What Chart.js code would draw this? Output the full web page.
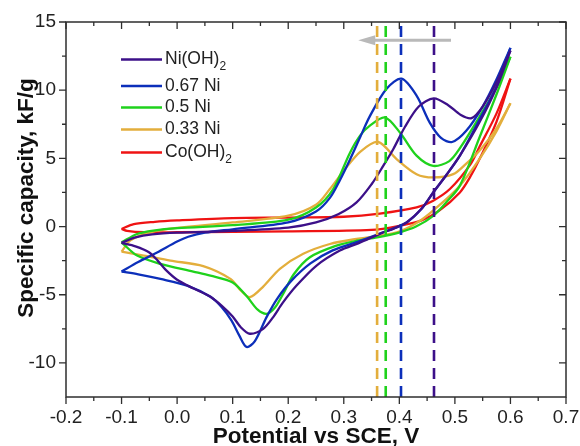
<!DOCTYPE html>
<html>
<head>
<meta charset="utf-8">
<script src="https://cdn.jsdelivr.net/npm/chart.js@4.4.1/dist/chart.umd.min.js"></script>
<style>
  html, body { margin: 0; padding: 0; background: #fff; }
  #box { width: 580px; height: 446px; }
</style>
</head>
<body>
<div id="box"><canvas id="grafico"></canvas></div>
<script>
// dados (potencial V, capacidade kF/g)
var potentialTicks = [-0.2, -0.1, 0, 0.1, 0.2, 0.3, 0.4, 0.5, 0.6, 0.7];
var capacityTicks = [-10, -5, 0, 5, 10, 15];

var seriesNames = ['Ni(OH)2', '0.67 Ni', '0.5 Ni', '0.33 Ni', 'Co(OH)2'];
var seriesColors = ['#3c1089', '#0c2fba', '#1fd21c', '#e3ae3c', '#ef1313'];

// potenciais de pico (linhas tracejadas): Ni(OH)2, 0.67 Ni, 0.5 Ni, 0.33 Ni
var peakPotentials = [0.4624, 0.403, 0.3755, 0.360];

// varredura anodica (ida) e catodica (volta)
var niFwd = [[-0.1,-1.2],[-0.075,-0.8],[-0.045,-0.58],[0,-0.45],[0.1,-0.32],[0.2,-0.08],[0.25,0.3],[0.29,0.9],[0.323,1.77],[0.35,3.1],[0.371,4.45],[0.389,5.67],[0.41,7.3],[0.435,8.8],[0.462,9.4],[0.488,8.9],[0.51,8.2],[0.53,7.95],[0.55,8.8],[0.575,10.6],[0.6,12.9]];
var niRev = [[0.6,12.9],[0.575,10.2],[0.545,7.7],[0.509,5.2],[0.485,3.8],[0.461,2.5],[0.44,1.3],[0.413,0.3],[0.39,-0.15],[0.37,-0.45],[0.326,-1.23],[0.293,-1.76],[0.251,-2.86],[0.215,-4.33],[0.19,-5.6],[0.173,-6.64],[0.155,-7.5],[0.131,-7.86],[0.115,-7.4],[0.1,-6.6],[0.08,-5.8],[0.06,-5.15],[0.03,-4.55],[0,-3.9],[-0.02,-3.2],[-0.035,-2.5],[-0.05,-1.9],[-0.075,-1.45],[-0.1,-1.2]];

var n67Fwd = [[-0.1,-3.3],[-0.07,-2.6],[-0.036,-1.9],[0,-1.1],[0.02,-0.75],[0.05,-0.45],[0.1,-0.2],[0.2,0.3],[0.25,1.1],[0.275,2.1],[0.293,3.4],[0.311,4.9],[0.33,6.6],[0.347,8.1],[0.377,10.1],[0.404,10.84],[0.431,9.6],[0.455,7.6],[0.475,6.5],[0.495,6.2],[0.52,7.0],[0.55,8.8],[0.575,10.8],[0.6,13.1]];
var n67Rev = [[0.6,13.1],[0.575,10.3],[0.545,7.9],[0.509,5.2],[0.485,3.8],[0.461,2.5],[0.44,1.3],[0.413,0.3],[0.371,-0.42],[0.326,-1.1],[0.28,-1.75],[0.24,-2.7],[0.205,-4.0],[0.18,-5.3],[0.161,-6.64],[0.14,-8.4],[0.125,-8.83],[0.112,-8.0],[0.098,-6.9],[0.08,-5.9],[0.06,-5.15],[0.018,-4.33],[-0.03,-3.84],[-0.07,-3.5],[-0.1,-3.3]];

var n50Fwd = [[-0.1,-1.16],[-0.072,-0.55],[-0.043,-0.3],[0,-0.12],[0.1,0.1],[0.2,0.5],[0.25,1.4],[0.281,2.75],[0.311,5.4],[0.33,6.7],[0.347,7.4],[0.374,8.0],[0.401,6.9],[0.431,5.2],[0.461,4.45],[0.49,4.8],[0.51,5.8],[0.545,8.1],[0.575,10.2],[0.6,12.45]];
var n50Rev = [[0.6,12.45],[0.575,9.7],[0.545,6.6],[0.509,3.0],[0.485,1.8],[0.461,0.79],[0.43,0.0],[0.401,-0.42],[0.36,-0.8],[0.323,-1.04],[0.287,-1.4],[0.239,-2.25],[0.21,-3.5],[0.19,-5.0],[0.175,-6.0],[0.161,-6.4],[0.145,-6.1],[0.125,-5.1],[0.1,-4.1],[0.06,-3.6],[0.029,-3.3],[-0.03,-2.74],[-0.072,-2.13],[-0.1,-1.16]];

var n33Fwd = [[-0.1,-1.84],[-0.084,-1.0],[-0.048,-0.42],[0,-0.1],[0.1,0.3],[0.2,0.8],[0.25,1.6],[0.275,2.75],[0.3,4.1],[0.33,5.5],[0.362,6.2],[0.395,4.95],[0.431,3.84],[0.461,3.6],[0.497,3.84],[0.52,4.6],[0.545,5.6],[0.575,7.2],[0.6,9.04]];
var n33Rev = [[0.6,9.04],[0.575,7.0],[0.545,5.0],[0.509,3.0],[0.473,1.6],[0.44,0.5],[0.401,-0.35],[0.36,-0.7],[0.323,-0.91],[0.275,-1.28],[0.227,-2.0],[0.185,-3.1],[0.155,-4.4],[0.131,-5.18],[0.115,-4.7],[0.096,-3.84],[0.047,-2.9],[-0.012,-2.5],[-0.06,-2.13],[-0.1,-1.84]];

var coFwd = [[-0.1,-0.18],[-0.078,0.18],[-0.04,0.35],[0,0.45],[0.1,0.62],[0.2,0.66],[0.3,0.72],[0.365,0.95],[0.431,1.4],[0.461,1.9],[0.491,2.75],[0.527,4.5],[0.545,5.9],[0.575,8.3],[0.6,10.85]];
var coRev = [[0.6,10.85],[0.575,7.7],[0.545,5.0],[0.527,3.6],[0.509,2.5],[0.473,1.2],[0.44,0.45],[0.401,0.06],[0.35,-0.25],[0.2,-0.35],[0,-0.42],[-0.06,-0.42],[-0.09,-0.32],[-0.1,-0.18]];

// seta cinza (de x0 para x1, em y)
var arrowFrom = 0.493, arrowTo = 0.326, arrowY = 13.67;

var curves = [[niFwd, niRev], [n67Fwd, n67Rev], [n50Fwd, n50Rev], [n33Fwd, n33Rev], [coFwd, coRev]];
var dashOrder = [3, 2, 1, 0]; // 0.33, 0.5, 0.67, Ni(OH)2

function pts(arr) {
    return arr.map(function(p){ return {x: p[0], y: p[1]}; });
}

var datasets = [];
// linhas tracejadas nos picos
dashOrder.forEach(function(i){
    datasets.push({
        data: [{x: peakPotentials[i], y: -12.5}, {x: peakPotentials[i], y: 15}],
        borderColor: seriesColors[i],
        borderWidth: 2.6,
        borderDash: [11, 7],
        pointRadius: 0,
        showLine: true
    });
});
curves.forEach(function(c, i){
    for (var k = 0; k < 2; k++) {
        datasets.push({
            label: seriesNames[i],
            data: pts(c[k]),
            borderColor: seriesColors[i],
            borderWidth: 2.3,
            pointRadius: 0,
            showLine: true,
            tension: 0.3
        });
    }
});

var FONT = '"Liberation Sans", Arial, sans-serif';

var decoracao = {
    id: 'decoracao',
    afterDraw: function(chart) {
        var ctx = chart.ctx;
        var xs = chart.scales.x, ys = chart.scales.y;
        var a = chart.chartArea;
        ctx.save();
        // moldura
        ctx.strokeStyle = '#2e2e2e';
        ctx.lineWidth = 1.5;
        ctx.strokeRect(a.left, a.top, a.right - a.left, a.bottom - a.top);
        ctx.lineWidth = 1.3;
        ctx.beginPath();
        // ticks x
        for (var i = 0; i < potentialTicks.length; i++) {
            var px = xs.getPixelForValue(potentialTicks[i]);
            ctx.moveTo(px, a.bottom); ctx.lineTo(px, a.bottom + 7);
            ctx.moveTo(px, a.top); ctx.lineTo(px, a.top + 7);
            if (i < potentialTicks.length - 1) {
                var pm = xs.getPixelForValue((potentialTicks[i] + potentialTicks[i + 1]) / 2);
                ctx.moveTo(pm, a.bottom); ctx.lineTo(pm, a.bottom + 4);
                ctx.moveTo(pm, a.top); ctx.lineTo(pm, a.top + 4);
            }
        }
        // ticks y
        for (var j = 0; j < capacityTicks.length; j++) {
            var py = ys.getPixelForValue(capacityTicks[j]);
            ctx.moveTo(a.left, py); ctx.lineTo(a.left - 7, py);
            ctx.moveTo(a.right, py); ctx.lineTo(a.right - 7, py);
            if (j < capacityTicks.length - 1) {
                var qm = ys.getPixelForValue((capacityTicks[j] + capacityTicks[j + 1]) / 2);
                ctx.moveTo(a.left, qm); ctx.lineTo(a.left - 4, qm);
                ctx.moveTo(a.right, qm); ctx.lineTo(a.right - 4, qm);
            }
        }
        ctx.stroke();

        // seta
        var ax0 = xs.getPixelForValue(arrowFrom), ax1 = xs.getPixelForValue(arrowTo), ay = ys.getPixelForValue(arrowY);
        ctx.strokeStyle = '#b9b9b9';
        ctx.fillStyle = '#b9b9b9';
        ctx.lineWidth = 3;
        ctx.beginPath();
        ctx.moveTo(ax0, ay); ctx.lineTo(ax1 + 14, ay);
        ctx.stroke();
        ctx.beginPath();
        ctx.moveTo(ax1, ay); ctx.lineTo(ax1 + 17, ay - 5); ctx.lineTo(ax1 + 17, ay + 5);
        ctx.closePath();
        ctx.fill();

        // legenda
        var ly = [59.5, 86, 107.5, 129.5, 152.5];
        for (var k = 0; k < seriesNames.length; k++) {
            ctx.strokeStyle = seriesColors[k];
            ctx.lineWidth = 2.5;
            ctx.beginPath();
            ctx.moveTo(121, ly[k]); ctx.lineTo(162, ly[k]);
            ctx.stroke();
            ctx.fillStyle = '#222';
            ctx.textBaseline = 'middle';
            ctx.textAlign = 'left';
            var nome = seriesNames[k];
            if (nome.slice(-1) === '2' && nome.indexOf('(') > 0) {
                ctx.font = '17.5px ' + FONT;
                var base = nome.slice(0, -1);
                ctx.fillText(base, 165, ly[k]);
                var w = ctx.measureText(base).width;
                ctx.font = '12px ' + FONT;
                ctx.fillText('2', 165 + w, ly[k] + 7);
            } else {
                ctx.font = '17.5px ' + FONT;
                ctx.fillText(nome, 165, ly[k]);
            }
        }

        // titulos dos eixos
        ctx.fillStyle = '#111';
        ctx.font = 'bold 22.5px ' + FONT;
        ctx.textAlign = 'center';
        ctx.textBaseline = 'alphabetic';
        ctx.fillText('Potential vs SCE, V', (a.left + a.right) / 2, 443);
        ctx.translate(32.5, 198);
        ctx.rotate(-Math.PI / 2);
        ctx.fillText('Specific capacity, kF/g', 0, 0);
        ctx.restore();
    }
};

window.onload = function(){
    var contexto = document.getElementById('grafico').getContext('2d');
    var grafico = new Chart(contexto, {
        type: 'scatter',
        data: { datasets: datasets },
        options: {
            responsive: true,
            maintainAspectRatio: false,
            animation: false,
            layout: { padding: { top: 22, right: 14, left: 0, bottom: 0 } },
            plugins: { legend: { display: false }, tooltip: { enabled: false } },
            scales: {
                x: {
                    type: 'linear',
                    min: -0.2, max: 0.7,
                    afterFit: function(s){ s.height = 49; s.paddingLeft = 0; s.paddingRight = 0; },
                    afterBuildTicks: function(s){ s.ticks = potentialTicks.map(function(v){ return {value: v}; }); },
                    grid: { display: false, drawTicks: false },
                    border: { display: false },
                    ticks: {
                        padding: 9.5,
                        color: '#222',
                        font: { family: FONT, size: 19 },
                        maxRotation: 0,
                        callback: function(v){ return v.toFixed(1); }
                    }
                },
                y: {
                    type: 'linear',
                    min: -12.5, max: 15,
                    afterFit: function(s){ s.width = 66; s.paddingTop = 0; s.paddingBottom = 0; },
                    afterBuildTicks: function(s){ s.ticks = capacityTicks.map(function(v){ return {value: v}; }); },
                    grid: { display: false, drawTicks: false },
                    border: { display: false },
                    ticks: {
                        padding: 10,
                        color: '#222',
                        font: { family: FONT, size: 19 },
                        callback: function(v){ return String(v); }
                    }
                }
            }
        },
        plugins: [decoracao]
    });
};
</script>
</body>
</html>
